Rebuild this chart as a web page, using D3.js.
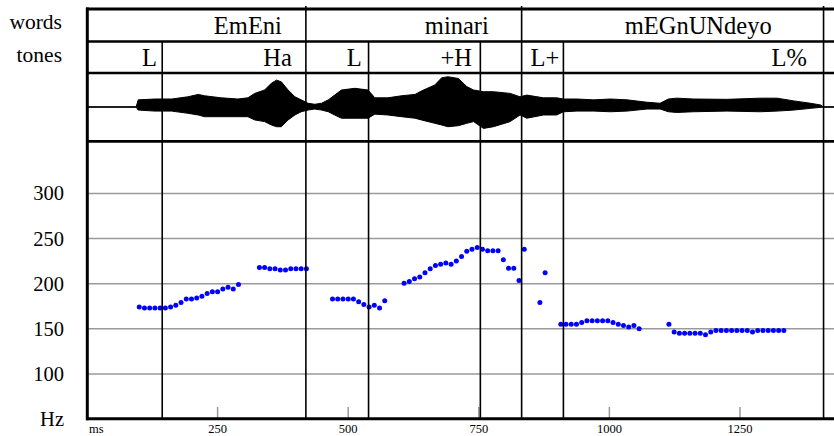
<!DOCTYPE html>
<html>
<head>
<meta charset="utf-8">
<script src="https://cdn.jsdelivr.net/npm/d3@7"></script>
<style>
  html, body { margin: 0; padding: 0; background: #fff; }
</style>
</head>
<body>
<svg id="chart" width="834" height="436"></svg>
<script>
// tiers
const words = ["EmEni", "minari", "mEGnUNdeyo"];
const wordEnds = [419, 832, 1410];
const wordLabelMs = [308, 708, 1170];

const tones = ["L", "Ha", "L", "+H", "", "L+", "L%"];
const toneEnds = [144, 419, 539, 753, 832, 912, 1410];
const toneLabelMs = [134, 392, 526, 737, 0, 904, 1378];

// waveform envelope (ms, upper, lower amplitude)
const waveMs = [0, 94, 98, 130, 162, 193, 213, 225, 257, 289, 308, 321, 340, 353, 363, 372, 385, 398, 410, 423, 436, 449, 462, 474, 487, 513, 538, 551, 576, 602, 628, 640, 666, 679, 691, 711, 727, 740, 759, 778, 810, 829, 842, 874, 899, 912, 938, 970, 1002, 1034, 1072, 1097, 1113, 1129, 1161, 1225, 1289, 1321, 1353, 1385, 1404, 1410, 1430];
const waveTop = [0, 0, 0.21, 0.235, 0.235, 0.30, 0.37, 0.33, 0.27, 0.235, 0.27, 0.40, 0.5, 0.70, 0.79, 0.74, 0.5, 0.30, 0.21, 0.11, 0.08, 0.11, 0.21, 0.35, 0.5, 0.55, 0.5, 0.27, 0.27, 0.33, 0.37, 0.47, 0.65, 0.86, 0.89, 0.84, 0.6, 0.5, 0.45, 0.45, 0.4, 0.3, 0.35, 0.27, 0.27, 0.235, 0.235, 0.21, 0.235, 0.21, 0.14, 0.11, 0.235, 0.26, 0.235, 0.225, 0.26, 0.26, 0.18, 0.11, 0.06, 0, 0];
const waveBottom = [0, 0, -0.09, -0.12, -0.12, -0.185, -0.235, -0.285, -0.285, -0.285, -0.285, -0.38, -0.43, -0.53, -0.58, -0.58, -0.38, -0.235, -0.14, -0.09, -0.06, -0.09, -0.14, -0.235, -0.33, -0.33, -0.33, -0.21, -0.235, -0.285, -0.33, -0.38, -0.48, -0.53, -0.58, -0.55, -0.48, -0.43, -0.63, -0.58, -0.43, -0.235, -0.33, -0.235, -0.235, -0.14, -0.12, -0.12, -0.14, -0.12, -0.06, -0.06, -0.14, -0.16, -0.14, -0.12, -0.14, -0.12, -0.09, -0.04, -0.01, 0, 0];

// pitch track
const pitchMs = [
  100, 110, 120, 130, 140, 150, 160, 170, 180, 190, 200, 210, 220, 230, 240, 250, 260, 270, 280, 290,
  330, 340, 350, 360, 370, 380, 390, 400, 410, 420,
  470, 480, 490, 500, 510, 520, 530, 540, 550, 560, 570,
  607, 617, 627, 637, 647, 657, 667, 677, 687, 697, 707, 717, 727, 737, 747, 757, 767, 777, 787, 797, 807, 817, 827, 837, 867, 877,
  907, 917, 927, 937, 947, 957, 967, 977, 987, 997, 1007, 1017, 1027, 1037, 1047, 1057,
  1114, 1124, 1134, 1144, 1154, 1164, 1174, 1184, 1194, 1204, 1214, 1224, 1234, 1244, 1254, 1264, 1274, 1284, 1294, 1304, 1314, 1324, 1334
];
const pitchHz = [
  174, 173, 173, 173, 173, 173, 174, 176, 179, 183, 183, 184, 186, 189, 191, 191, 194, 196, 194, 199,
  218, 218, 216.5, 216.5, 215, 215, 216.5, 216.5, 216.5, 216.5,
  183, 183, 183, 183, 183, 180, 177, 174, 176, 173, 181,
  200.5, 202.5, 205.5, 207.5, 212, 216.5, 220, 221.5, 223, 221.5, 225, 230, 236, 238, 240, 238, 236.5, 236.5, 236.5, 226.5, 217, 217, 203.5, 238, 179, 212,
  155, 155, 155, 155, 157, 159, 159, 159, 159, 159, 157, 155, 153.5, 152, 153.5, 150,
  155, 146.5, 145, 145, 145, 145, 145, 143.5, 146.5, 148, 148, 148, 148, 148, 148, 148, 146.5, 148, 148, 148, 148, 148, 148
];

const hzTicks = [50, 100, 150, 200, 250, 300];
const hzLabels = ["Hz", "100", "150", "200", "250", "300"];
const msTicks = [250, 500, 750, 1000, 1250];

const W = 834;
const FONT = "'Liberation Serif', 'Times New Roman', Times, 'DejaVu Serif', 'Noto Serif', serif";
const svg = d3.select("#chart").attr("font-family", FONT);

const x = d3.scaleLinear().domain([0, 1430]).range([87, W]);
const y = d3.scaleLinear().domain([50, 357]).range([419, 142]);
const amp = d3.scaleLinear().domain([-1, 1]).range([141, 73]);

// gridlines
svg.append("g").selectAll("line")
  .data(hzTicks.filter(d => d > 50))
  .join("line")
  .attr("x1", 88).attr("x2", W)
  .attr("y1", d => y(d)).attr("y2", d => y(d))
  .attr("stroke", "#9a9a9a").attr("stroke-width", 1.5);

// ms ticks
svg.append("g").selectAll("line")
  .data(msTicks)
  .join("line")
  .attr("x1", d => x(d)).attr("x2", d => x(d))
  .attr("y1", 419).attr("y2", 407)
  .attr("stroke", "#9a9a9a").attr("stroke-width", 1.5);

// waveform
svg.append("line")
  .attr("x1", 87).attr("x2", W).attr("y1", amp(0)).attr("y2", amp(0))
  .attr("stroke", "#000").attr("stroke-width", 1);

const wave = waveMs.map((t, i) => ({ t, hi: waveTop[i], lo: waveBottom[i] }));
svg.append("path")
  .datum(wave)
  .attr("d", d3.area().x(d => x(d.t)).y0(d => amp(d.lo)).y1(d => amp(d.hi)))
  .attr("fill", "#000").attr("stroke", "#000").attr("stroke-width", 1);

// pitch points
svg.append("g").selectAll("circle")
  .data(pitchMs.map((t, i) => [t, pitchHz[i]]))
  .join("circle")
  .attr("cx", d => x(d[0])).attr("cy", d => y(d[1]))
  .attr("r", 2.5).attr("fill", "#0000ff");

// tier boundaries
svg.append("g").selectAll("line")
  .data(toneEnds.filter(t => !wordEnds.includes(t)))
  .join("line")
  .attr("x1", d => x(d)).attr("x2", d => x(d))
  .attr("y1", 41).attr("y2", 419)
  .attr("stroke", "#000").attr("stroke-width", 1.6);

svg.append("g").selectAll("line")
  .data(wordEnds)
  .join("line")
  .attr("x1", d => x(d)).attr("x2", d => x(d))
  .attr("y1", 6).attr("y2", 419)
  .attr("stroke", "#000").attr("stroke-width", 1.6);

// frame
const rows = [[9, 3], [41.5, 2.5], [73, 2.5], [141.3, 2.8], [418.7, 3]];
svg.append("g").selectAll("line")
  .data(rows)
  .join("line")
  .attr("x1", 86).attr("x2", W)
  .attr("y1", d => d[0]).attr("y2", d => d[0])
  .attr("stroke", "#000").attr("stroke-width", d => d[1]);

svg.append("line")
  .attr("x1", 87.3).attr("x2", 87.3).attr("y1", 7.5).attr("y2", 420.2)
  .attr("stroke", "#000").attr("stroke-width", 3);

// tier labels
svg.append("g").selectAll("text")
  .data(words)
  .join("text")
  .attr("x", (d, i) => x(wordLabelMs[i])).attr("y", 34)
  .attr("text-anchor", "middle").attr("font-size", 24.5)
  .text(d => d);

svg.append("g").selectAll("text")
  .data(tones.map((d, i) => [d, toneLabelMs[i]]).filter(d => d[0] !== ""))
  .join("text")
  .attr("x", d => x(d[1])).attr("y", 66)
  .attr("text-anchor", "end").attr("font-size", 24.5)
  .text(d => d[0]);

svg.append("text").attr("x", 62).attr("y", 28.5).attr("text-anchor", "end")
  .attr("font-size", 21.5).text("words");
svg.append("text").attr("x", 62).attr("y", 62).attr("text-anchor", "end")
  .attr("font-size", 21.5).text("tones");

// y labels
svg.append("g").selectAll("text")
  .data(hzTicks)
  .join("text")
  .attr("x", 64).attr("y", d => y(d))
  .attr("dy", "0.34em")
  .attr("text-anchor", "end").attr("font-size", 20.5)
  .text((d, i) => hzLabels[i]);

// x labels
svg.append("g").selectAll("text")
  .data(msTicks)
  .join("text")
  .attr("x", d => x(d)).attr("y", 433)
  .attr("text-anchor", "middle").attr("font-size", 12.5)
  .text(d => d);

svg.append("text").attr("x", 89).attr("y", 433)
  .attr("font-size", 12.5).text("ms");
</script>
</body>
</html>
